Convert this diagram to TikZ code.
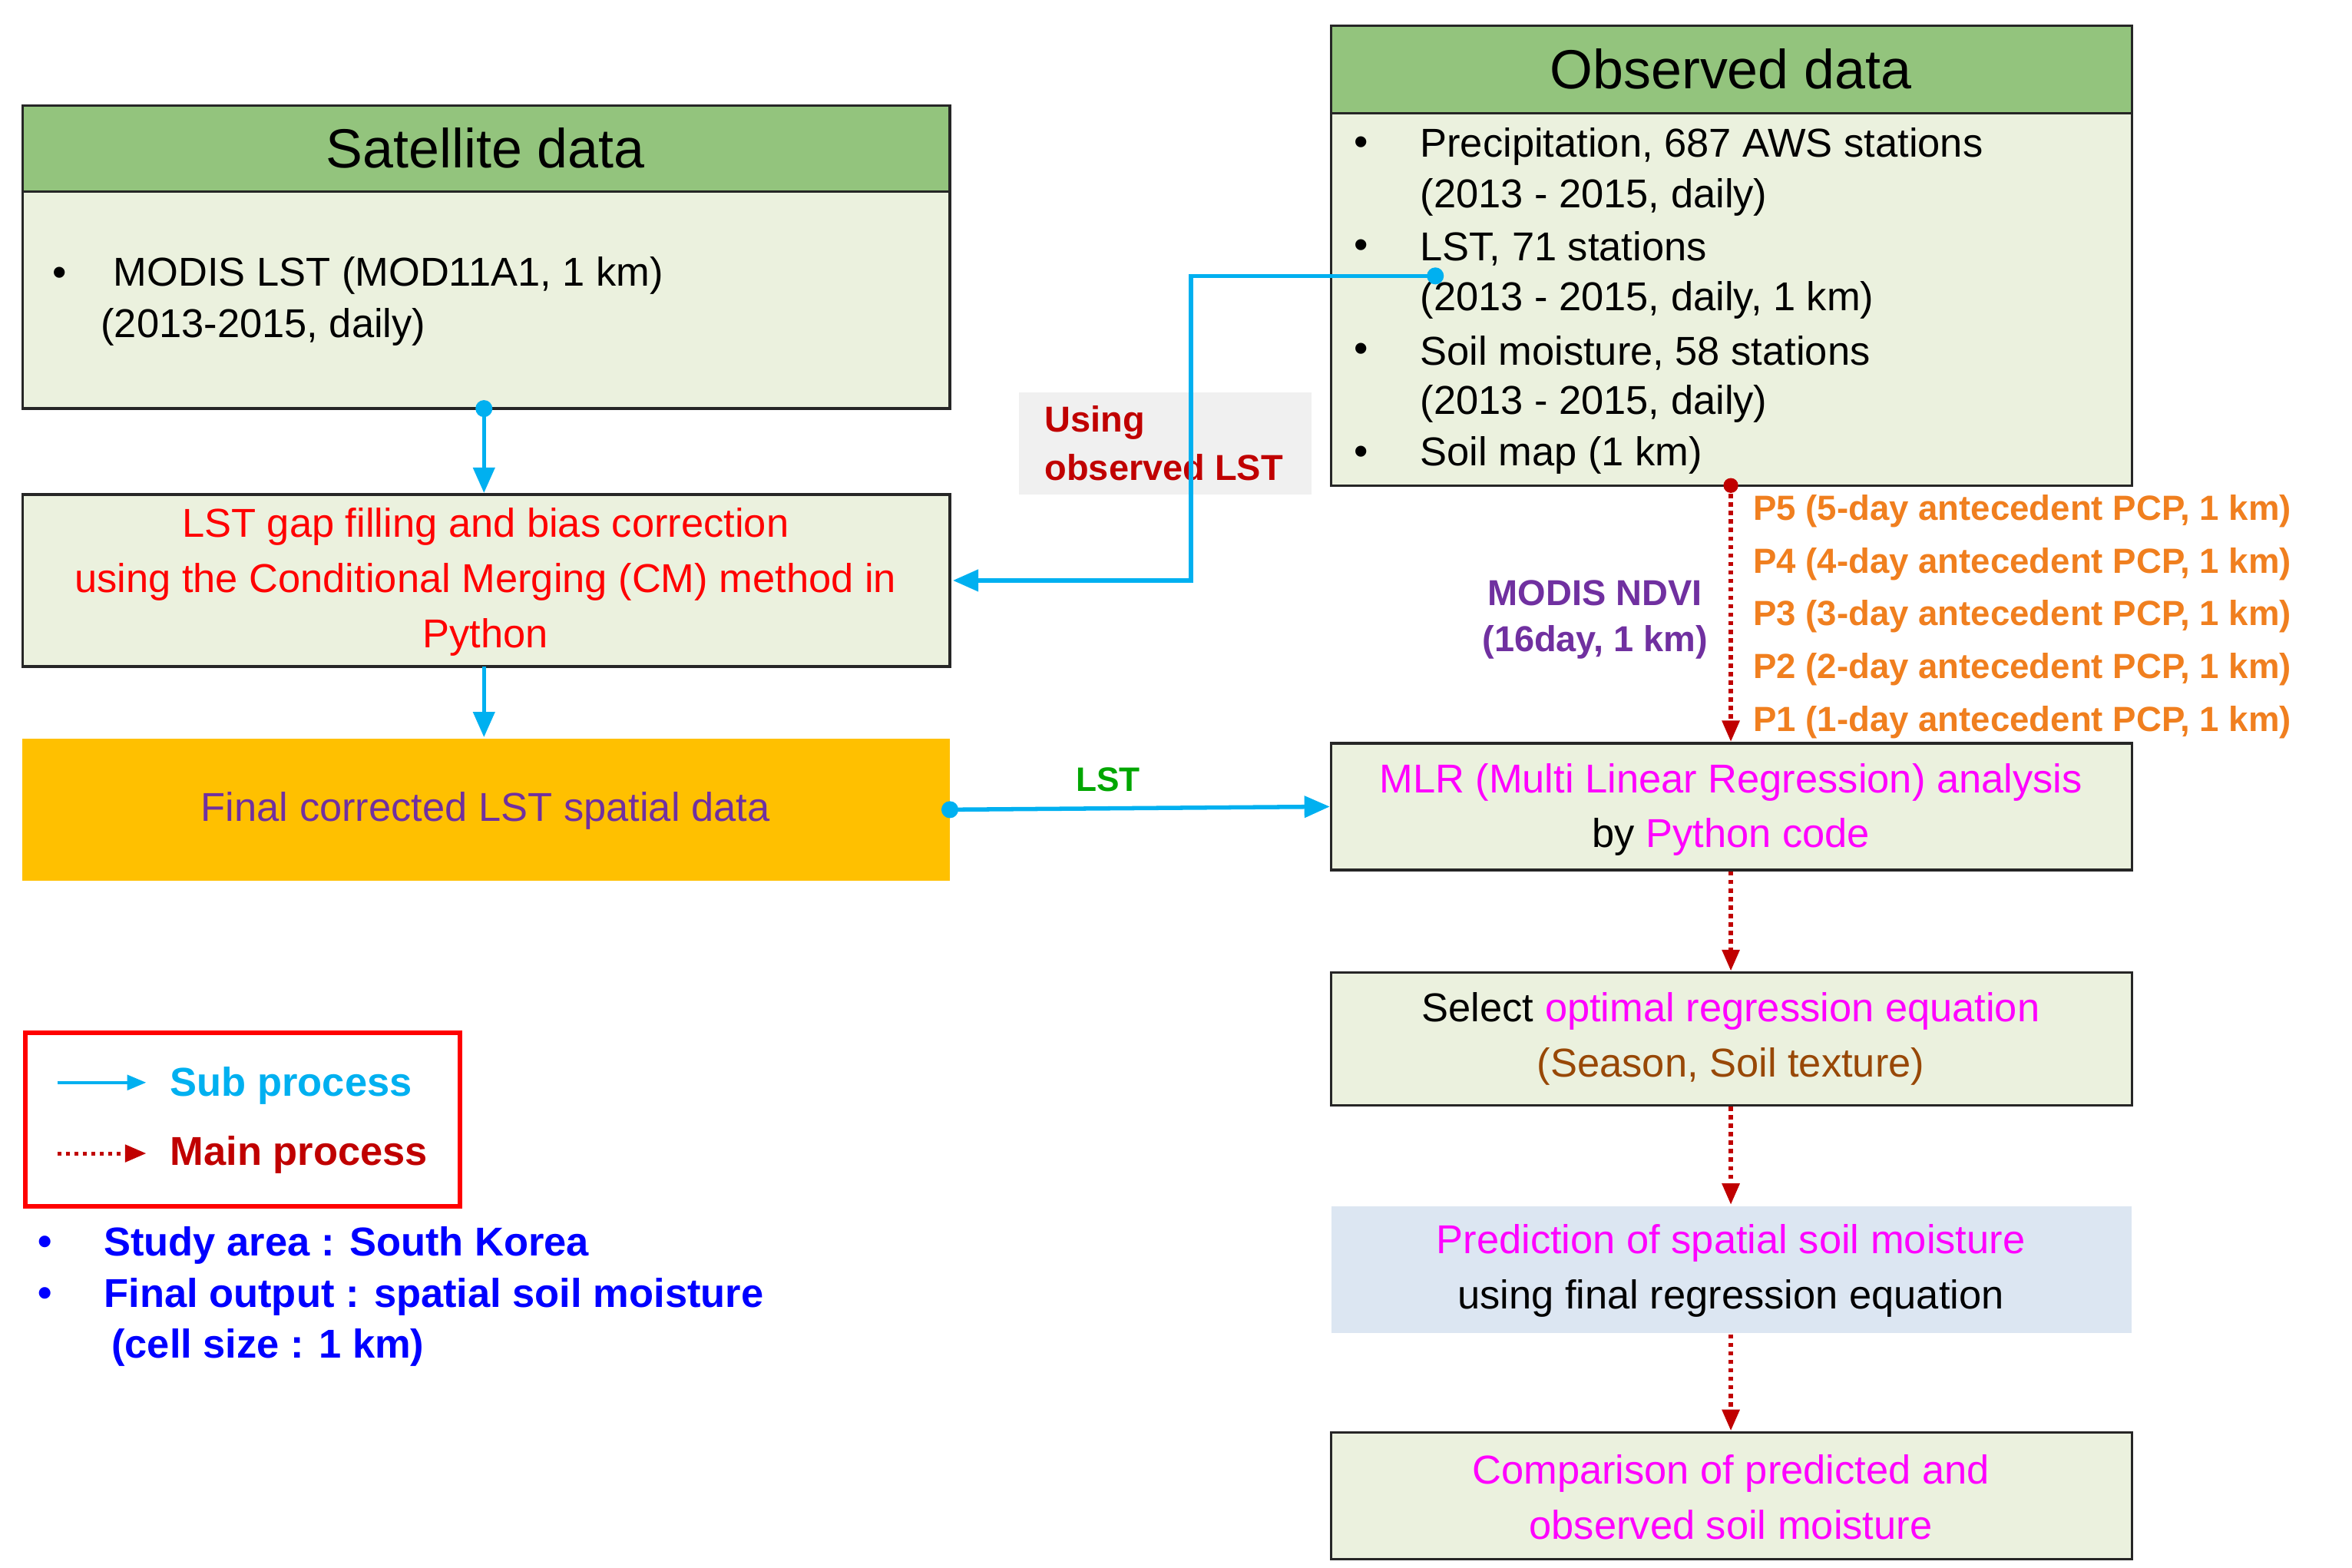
\documentclass[tikz,border=0pt]{standalone}
\usepackage{fontspec}
\setmainfont{Liberation Sans}
\usetikzlibrary{arrows.meta}
\definecolor{hdr}{HTML}{93C47D}
\definecolor{bdy}{HTML}{EBF1DE}
\definecolor{sub}{HTML}{00B0F0}
\definecolor{mainr}{HTML}{C00000}
\definecolor{mag}{HTML}{FF00FF}
\definecolor{orng}{HTML}{F07F1F}
\definecolor{purp}{HTML}{7030A0}
\definecolor{brn}{HTML}{984807}
\definecolor{lblue}{HTML}{DCE6F2}
\definecolor{fin}{HTML}{FFC000}
\begin{document}
\begin{tikzpicture}[x=0.025cm,y=-0.025cm,
 box/.style={draw=black!85,line width=1.2pt,fill=bdy,inner sep=0pt},
 head/.style={draw=black!85,line width=1.2pt,fill=hdr,inner sep=0pt},
 body/.style={font=\fontsize{19}{24}\selectfont},
 subar/.style={draw=sub,line width=2pt,-{Triangle[length=12pt,width=10pt]}},
 mainar/.style={draw=mainr,line width=2pt,dotted,-{Triangle[length=10pt,width=8pt]}},
 dot/.style={circle,fill=#1,inner sep=0pt,minimum size=8pt},
 pl/.style={text=orng,font=\fontsize{16.5}{20}\bfseries\selectfont,anchor=west}]
\useasboundingbox (0,0) rectangle (1560,1040);
% satellite
\draw[head] (15,70) rectangle (630,127);
\node[font=\fontsize{26}{30}\selectfont] (sath) at (322,98) {Satellite data};
\draw[box] (15,127) rectangle (630,271);
\node[body,anchor=west] (satb1) at (30,183) {•\hspace{22pt}MODIS LST (MOD11A1, 1 km)};
\node[body,anchor=west] (satb2) at (62,217) {(2013-2015, daily)};
% gap filling
\draw[box] (15,328) rectangle (630,442);
\node[body,text=red,align=center] (gap) at (322,386) {LST gap filling and bias correction\\[2pt] using the Conditional Merging (CM) method in\\[2pt] Python};
% final
\fill[fin] (15,490) rectangle (630,584);
\node[body,text=purp] (final) at (322,538) {Final corrected LST spatial data};
% observed
\draw[head] (883,17) rectangle (1414,75);
\node[font=\fontsize{26}{30}\selectfont] (obsh) at (1148,46) {Observed data};
\draw[box] (883,75) rectangle (1414,322);
\foreach \t/\y in {•/97,•/165,•/234,•/302}
  \node[body] at (903,\y) {\t};
\node[body,anchor=west] (o1) at (937,97) {Precipitation, 687 AWS stations};
\node[body,anchor=west] at (937,131) {(2013 - 2015, daily)};
\node[body,anchor=west] (o2) at (937,165) {LST, 71 stations};
\node[body,anchor=west] at (937,199) {(2013 - 2015, daily, 1 km)};
\node[body,anchor=west] at (937,234) {Soil moisture, 58 stations};
\node[body,anchor=west] at (937,268) {(2013 - 2015, daily)};
\node[body,anchor=west] at (937,302) {Soil map (1 km)};
% using observed LST
\fill[black!6] (676,260) rectangle (870,328);
\node[text=mainr,font=\fontsize{17}{23}\bfseries\selectfont,align=left,anchor=west] (uol) at (688,294) {Using\\observed LST};
\node[dot=sub] (d1) at (952,183) {};
\coordinate (c1) at (790,183);
\coordinate (c2) at (790,385);
\coordinate (c3) at (632,385);
\draw[subar] (d1.center) -- (c1) -- (c2) -- (c3);
% satellite arrows
\node[dot=sub] (d2) at (321,271) {};
\coordinate (g1) at (321,327);
\draw[subar] (d2.center) -- (g1);
\coordinate (g2) at (321,442);
\coordinate (g3) at (321,489);
\draw[subar] (g2) -- (g3);
% MLR
\draw[box] (883,493) rectangle (1414,577);
\node[body,align=center] (mlr) at (1148,537) {\textcolor{mag}{MLR (Multi Linear Regression) analysis}\\[2pt] by \textcolor{mag}{Python code}};
\node[dot=sub] (d3) at (630,537) {};
\coordinate (m1) at (882,535);
\draw[subar] (d3.center) -- (m1);
\node[text=green!65!black,font=\fontsize{16}{20}\bfseries\selectfont] (lstl) at (735,517) {LST};
% dotted main
\node[dot=mainr,minimum size=7pt] (d4) at (1148,322) {};
\coordinate (m2) at (1148,492);
\draw[mainar] (d4.center) -- (m2);
\node[text=purp,font=\fontsize{17}{22}\bfseries\selectfont,align=center] (ndvi) at (1058,411) {MODIS NDVI\\(16day, 1 km)};
\node[pl] at (1158,339) {P5 (5-day antecedent PCP, 1 km)};
\node[pl] at (1158,374) {P4 (4-day antecedent PCP, 1 km)};
\node[pl] at (1158,409) {P3 (3-day antecedent PCP, 1 km)};
\node[pl] at (1158,444) {P2 (2-day antecedent PCP, 1 km)};
\node[pl] at (1158,479) {P1 (1-day antecedent PCP, 1 km)};
% select
\draw[box] (883,645) rectangle (1414,733);
\node[body,align=center] (sel) at (1148,689) {Select \textcolor{mag}{optimal regression equation}\\[2pt] \textcolor{brn}{(Season, Soil texture)}};
\coordinate (s1) at (1148,578);\coordinate (s2) at (1148,644);
\draw[mainar] (s1) -- (s2);
% prediction
\fill[lblue] (883,800) rectangle (1414,884);
\node[body,align=center] (pred) at (1148,843) {\textcolor{mag}{Prediction of spatial soil moisture}\\[2pt] using final regression equation};
\coordinate (s3) at (1148,734);\coordinate (s4) at (1148,799);
\draw[mainar] (s3) -- (s4);
% comparison
\draw[box] (883,950) rectangle (1414,1034);
\node[body,align=center,text=mag] (comp) at (1148,993) {Comparison of predicted and\\[2pt] observed soil moisture};
\coordinate (s5) at (1148,885);\coordinate (s6) at (1148,949);
\draw[mainar] (s5) -- (s6);
% legend
\draw[red,line width=2.2pt] (17,685) rectangle (305,800);
\coordinate (l1) at (38,718);\coordinate (l2) at (97,718);
\draw[subar,line width=1.6pt,-{Triangle[length=9pt,width=7pt]}] (l1) -- (l2);
\node[text=sub,font=\fontsize{19}{22}\bfseries\selectfont,anchor=west] (subl) at (108,720) {Sub process};
\coordinate (l3) at (38,765);\coordinate (l4) at (97,765);
\draw[mainar,line width=1.8pt] (l3) -- (l4);
\node[text=mainr,font=\fontsize{19}{22}\bfseries\selectfont,anchor=west] (mainl) at (108,766) {Main process};
\begin{scope}[every node/.style={text=blue,font=\fontsize{19}{22}\bfseries\selectfont,anchor=west}]
\node at (20,826) {•};
\node at (20,860) {•};
\node (sa) at (64,826) {Study area : South Korea};
\node (fo) at (64,860) {Final output : spatial soil moisture};
\node at (69,894) {(cell size : 1 km)};
\end{scope}
\end{tikzpicture}
\end{document}
